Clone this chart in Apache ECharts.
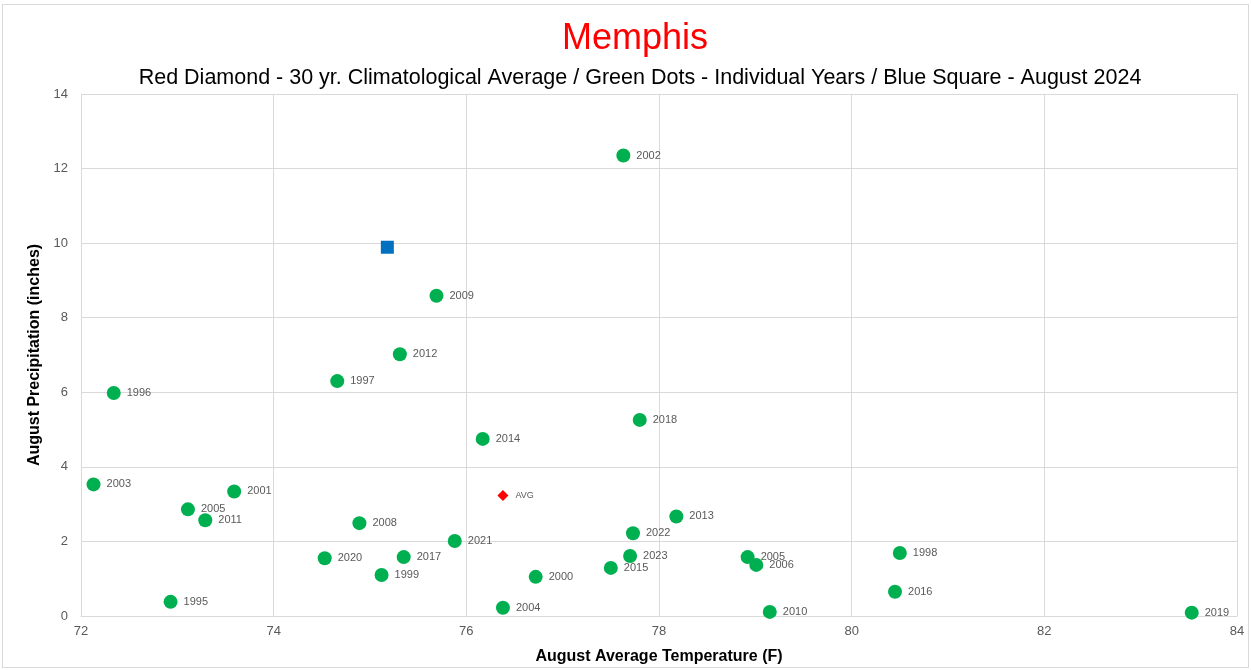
<!DOCTYPE html>
<html>
<head>
<meta charset="utf-8">
<script src="https://cdn.jsdelivr.net/npm/echarts@6/dist/echarts.min.js"></script>
<style>
  html, body { margin: 0; padding: 0; background: #fff; }
  #chart { width: 1251px; height: 670px; }
  #frame { position: absolute; left: 2px; top: 4px; width: 1245px; height: 662px; border: 1px solid #d9d9d9; pointer-events: none; }
</style>
</head>
<body>
<div id="chart"></div>
<div id="frame"></div>
<script>
  // individual years: temperature (F), precipitation (inches)
  var years = ['1996', '2003', '2005', '2011', '2001', '1995', '1997', '2012', '2009', '2002',
               '2014', '2018', '2008', '2020', '2017', '1999', '2021', '2000', '2004', '2015',
               '2023', '2022', '2013', '2005', '2006', '2010', '1998', '2016', '2019'];
  var temps = [72.34, 72.13, 73.11, 73.29, 73.59, 72.93, 74.66, 75.31, 75.69, 77.63,
               76.17, 77.80, 74.89, 74.53, 75.35, 75.12, 75.88, 76.72, 76.38, 77.50,
               77.70, 77.73, 78.18, 78.92, 79.01, 79.15, 80.50, 80.45, 83.53];
  var precip = [5.98, 3.53, 2.86, 2.57, 3.34, 0.38, 6.30, 7.02, 8.59, 12.35,
                4.75, 5.26, 2.49, 1.55, 1.58, 1.10, 2.01, 1.05, 0.22, 1.29,
                1.61, 2.22, 2.67, 1.58, 1.37, 0.11, 1.69, 0.65, 0.09];

  var avgPoint = [76.38, 3.23];      // 30 yr climatological average
  var currentPoint = [75.18, 9.89];  // August 2024

  var xTicks = [72, 74, 76, 78, 80, 82, 84];
  var yTicks = [0, 2, 4, 6, 8, 10, 12, 14];

  var font = 'Liberation Sans';
  var yearData = [];
  for (var i = 0; i < years.length; i++) {
    yearData.push([temps[i], precip[i], years[i]]);
  }

  var myChart = echarts.init(document.getElementById('chart'));
  var option = {
    animation: false,
    textStyle: { fontFamily: font },
    title: [{
      text: 'Memphis',
      left: 630,
      textAlign: 'center',
      top: 16,
      textStyle: { color: '#ff0000', fontSize: 36, fontWeight: 'normal', fontFamily: font }
    }, {
      text: 'Red Diamond - 30 yr. Climatological Average / Green Dots - Individual Years / Blue Square - August 2024',
      left: 635,
      textAlign: 'center',
      top: 62,
      textStyle: { color: '#000', fontSize: 21.5, fontWeight: 'normal', fontFamily: font }
    }],
    grid: { left: 81, right: 14, top: 94, bottom: 51, containLabel: false },
    xAxis: {
      type: 'value',
      min: xTicks[0],
      max: xTicks[xTicks.length - 1],
      interval: 2,
      name: 'August Average Temperature (F)',
      nameLocation: 'middle',
      nameGap: 33,
      nameTextStyle: { color: '#000', fontSize: 16, fontWeight: 'bold', fontFamily: font },
      axisLine: { show: true, lineStyle: { color: '#d9d9d9' } },
      axisTick: { show: false },
      axisLabel: { color: '#595959', fontSize: 13, margin: 9 },
      splitLine: { show: true, lineStyle: { color: '#d9d9d9', width: 1 } }
    },
    yAxis: {
      type: 'value',
      min: yTicks[0],
      max: yTicks[yTicks.length - 1],
      interval: 2,
      name: 'August Precipitation (inches)',
      nameLocation: 'middle',
      nameGap: 32,
      nameTextStyle: { color: '#000', fontSize: 16, fontWeight: 'bold', fontFamily: font },
      axisLine: { show: true, lineStyle: { color: '#d9d9d9' } },
      axisTick: { show: false },
      axisLabel: { color: '#595959', fontSize: 13, margin: 13 },
      splitLine: { show: true, lineStyle: { color: '#d9d9d9', width: 1 } }
    },
    series: [{
      name: 'Years',
      type: 'scatter',
      symbol: 'circle',
      symbolSize: 14,
      itemStyle: { color: '#00b050', opacity: 1 },
      label: {
        show: true,
        position: 'right',
        distance: 6,
        color: '#595959',
        fontSize: 11,
        formatter: function(p) { return p.value[2]; }
      },
      data: yearData
    }, {
      name: 'AVG',
      type: 'scatter',
      symbol: 'diamond',
      symbolSize: [11, 11],
      itemStyle: { color: '#ff0000', opacity: 1 },
      label: { show: true, position: 'right', distance: 7, color: '#595959', fontSize: 9, formatter: 'AVG' },
      data: [avgPoint]
    }, {
      name: 'August 2024',
      type: 'scatter',
      symbol: 'rect',
      symbolSize: 13,
      itemStyle: { color: '#0070c0', opacity: 1 },
      data: [currentPoint]
    }]
  };
  myChart.setOption(option);
</script>
</body>
</html>
